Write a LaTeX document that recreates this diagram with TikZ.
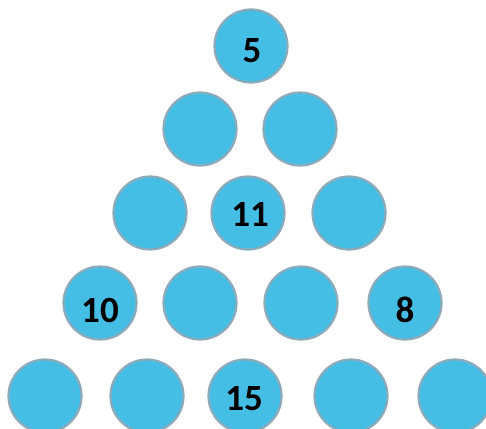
\documentclass[tikz,border=0pt]{standalone}
\usepackage{fontspec}
\setmainfont{Carlito}
\definecolor{ballfill}{RGB}{68,190,228}
\definecolor{ballrim}{RGB}{140,170,186}
\begin{document}
\begin{tikzpicture}[x=1pt,y=-1pt,
  ball/.style={circle,fill=ballfill,draw=ballrim,line width=2.2pt,minimum size=73pt,inner sep=0pt},
  num/.style={anchor=base,font=\bfseries\fontsize{37}{40}\selectfont,text=black,inner sep=0pt}]
\useasboundingbox (0,0) rectangle (486,428);
% row 1
\node[ball] (b11) at (251,46) {};
% row 2
\node[ball] (b21) at (200,129) {};
\node[ball] (b22) at (300,129) {};
% row 3
\node[ball] (b31) at (150,213) {};
\node[ball] (b32) at (248,213) {};
\node[ball] (b33) at (349,213) {};
% row 4
\node[ball] (b41) at (100,303) {};
\node[ball] (b42) at (200,303) {};
\node[ball] (b43) at (301,303) {};
\node[ball] (b44) at (405,303) {};
% row 5
\node[ball] (b51) at (45,396) {};
\node[ball] (b52) at (147,396) {};
\node[ball] (b53) at (245,396) {};
\node[ball] (b54) at (351,396) {};
\node[ball] (b55) at (455,396) {};
% numbers
\node[num] (t11) at (252,62) {5};
\node[num] (t32) at (250,226) {11};
\node[num] (t41) at (100,322) {10};
\node[num] (t44) at (405,322) {8};
\node[num] (t53) at (244,410) {15};
\end{tikzpicture}
\end{document}
